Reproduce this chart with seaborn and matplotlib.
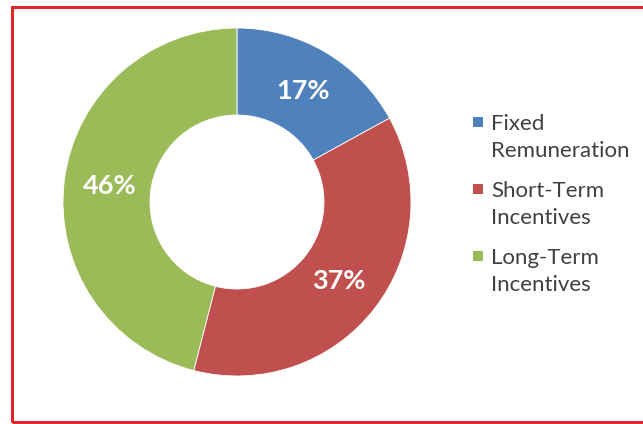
import matplotlib
matplotlib.use("Agg")
import matplotlib.pyplot as plt
from matplotlib.patches import Rectangle
import seaborn as sns

# chart data
categories = ["Fixed\nRemuneration", "Short-Term\nIncentives", "Long-Term\nIncentives"]
shares = [17, 37, 46]
colors = ["#4F81BD", "#C0504D", "#9BBB59"]

sns.set_theme(style="white")
plt.rcParams["font.family"] = ["Lato", "DejaVu Sans"]

W, H = 643, 424
fig = plt.figure(figsize=(W / 100, H / 100), dpi=100)
fig.patch.set_facecolor("white")

# donut: centre ~(237, 202) px, outer radius ~174 px
cx, cy, r = 237, 202, 174
ax = fig.add_axes([(cx - r) / W, (H - cy - r) / H, 2 * r / W, 2 * r / H])
wedges, texts, autotexts = ax.pie(
    shares, colors=sns.color_palette(colors), startangle=90, counterclock=False,
    radius=1, wedgeprops=dict(width=0.5, edgecolor="white", linewidth=0.6),
    autopct="%d%%", pctdistance=0.74,
    textprops=dict(color="white", fontsize=19.5, fontweight="bold"))
ax.set_xlim(-1, 1)
ax.set_ylim(-1, 1)
ax.set_aspect("equal")
ax.axis("off")

# legend, drawn by hand so the square sits on the first text line
legend_tops = [115, 182, 249]
for lab, col, top in zip(categories, colors, legend_tops):
    fig.patches.append(Rectangle((473 / W, 1 - (top + 12) / H), 10 / W, 10 / H,
                                 transform=fig.transFigure, facecolor=col,
                                 edgecolor="none"))
    fig.text(491 / W, 1 - (top - 1) / H, lab, ha="left", va="top",
             fontsize=16, color="#404040", linespacing=1.45)

# red frame
fig.patches.append(Rectangle((12 / W, 1 - 422 / H), (W + 10 - 12) / W, (422 - 7) / H,
                             transform=fig.transFigure, fill=False,
                             edgecolor="#e0282a", linewidth=2.2))

fig.savefig("out.png", dpi=100)
